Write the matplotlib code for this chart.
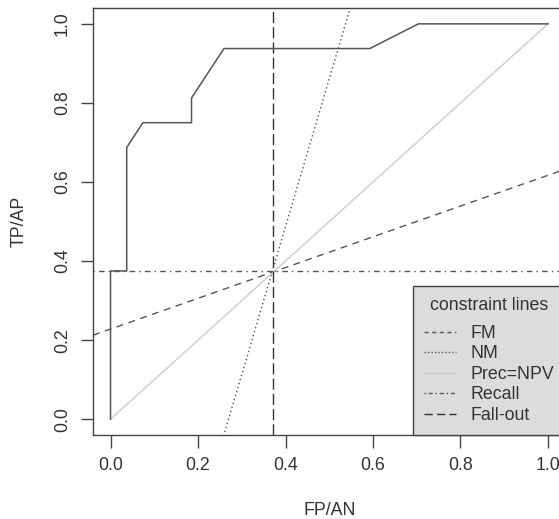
import matplotlib
matplotlib.use("Agg")
import matplotlib.pyplot as plt
from matplotlib.lines import Line2D

plt.rcParams["font.family"] = "sans-serif"
plt.rcParams["font.sans-serif"] = ["Liberation Sans", "DejaVu Sans"]
plt.rcParams["font.size"] = 12.8

# ROC curve (FP/AN, TP/AP)
fp = [0.0, 0.0, 1/27, 1/27, 2/27, 5/27, 5/27, 7/27, 16/27, 19/27, 1.0]
tp = [0.0, 6/16, 6/16, 11/16, 12/16, 12/16, 13/16, 15/16, 15/16, 1.0, 1.0]

# constraint lines through the chosen point
fallout = 10/27
recall = 6/16
fm_slope, fm_icpt = 0.389, 0.228
nm_slope, nm_icpt = 3.74, -1.009

xticks = [0.0, 0.2, 0.4, 0.6, 0.8, 1.0]
yticks = [0.0, 0.2, 0.4, 0.6, 0.8, 1.0]

txt = "#333333"
edge = "#444444"

fig = plt.figure(figsize=(5.59, 5.19), dpi=100)
ax = fig.add_axes([0.1664, 0.1618, 0.8452, 0.8227])
ax.set_xlim(-0.04, 1.04)
ax.set_ylim(-0.04, 1.04)

ax.plot(fp, tp, color="#555555", lw=1.1, zorder=5)

xs = [-0.04, 1.04]
ax.plot(xs, [fm_icpt + fm_slope * x for x in xs], color="#555555", lw=1.0,
        dashes=(5, 4))
ax.plot(xs, [nm_icpt + nm_slope * x for x in xs], color="#555555", lw=1.0,
        dashes=(1, 2))
ax.plot([0, 1], [0, 1], color="#cccccc", lw=1.0)
ax.axhline(recall, color="#555555", lw=1.0, dashes=(1, 3, 4, 3))
ax.axvline(fallout, color="#333333", lw=1.0, dashes=(8, 3))

handles = [
    Line2D([], [], color="#555555", lw=1.0, dashes=(3, 2.5)),
    Line2D([], [], color="#555555", lw=1.0, dashes=(1, 1.5)),
    Line2D([], [], color="#cccccc", lw=1.0),
    Line2D([], [], color="#555555", lw=1.0, dashes=(1, 2, 3, 2)),
    Line2D([], [], color="#333333", lw=1.0, dashes=(6, 3)),
]
labels = ["FM", "NM", "Prec=NPV", "Recall", "Fall-out"]
leg = ax.legend(handles, labels, title="constraint lines", loc="lower right",
                bbox_to_anchor=(1.0, 0.0), borderaxespad=0, fancybox=False,
                framealpha=1, facecolor="#dcdcdc", edgecolor=edge,
                handlelength=1.8, handletextpad=0.8, borderpad=0.62,
                labelspacing=0.2, fontsize=12.8, title_fontsize=12.8)
leg.get_frame().set_linewidth(1.0)
leg._legend_box.sep = 8  # a bit more room under the title
for t in leg.get_texts():
    t.set_color(txt)
leg.get_title().set_color(txt)
leg.set_zorder(10)

ax.set_xticks(xticks)
ax.set_yticks(yticks)
ax.set_xticklabels(["%.1f" % v for v in xticks])
ax.set_yticklabels(["%.1f" % v for v in yticks], rotation=90, va="center")
ax.tick_params(direction="out", length=9, width=1.0, colors=edge,
               labelcolor=txt, pad=7)
for s in ax.spines.values():
    s.set_color(edge)
    s.set_linewidth(1.0)

ax.set_xlabel("FP/AN", color=txt, labelpad=20)
ax.set_ylabel("TP/AP", color=txt, labelpad=19)

fig.savefig("out.png", dpi=100)
